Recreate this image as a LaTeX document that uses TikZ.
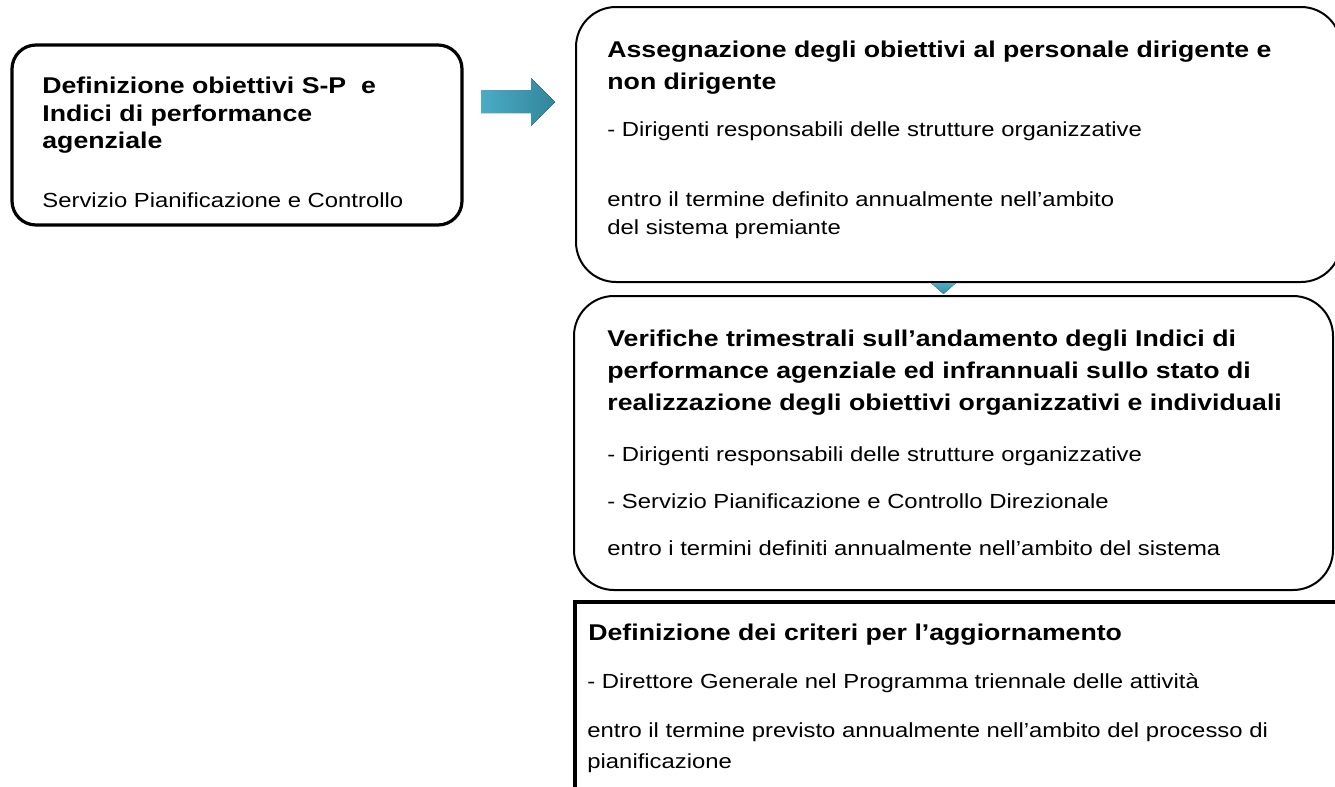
\documentclass[tikz,border=0pt]{standalone}
\usepackage{fontspec}
\setmainfont{Liberation Sans}[FakeStretch=1.17]
\usepackage{tikz}

\definecolor{arrowL}{RGB}{75,172,198}
\definecolor{arrowR}{RGB}{49,133,155}

\tikzset{
  roundbox/.style={draw, line width=1pt, rounded corners=20pt},
  titletext/.style={anchor=base west, inner sep=0pt, font=\fontsize{11.4}{13}\selectfont\bfseries},
  bodytext/.style={anchor=base west, inner sep=0pt, font=\fontsize{10.2}{12}\selectfont},
}

\begin{document}
\begin{tikzpicture}[x=0.5pt,y=-0.5pt]
\useasboundingbox (0,0) rectangle (1335,787);
% boxes
\draw[roundbox, line width=1.6pt, rounded corners=12pt] (12,45) rectangle (462,225);
\draw[roundbox] (576,7) rectangle (1341,282);
\draw[roundbox] (574,296) rectangle (1333,590);
\draw[line width=2pt] (575,602) rectangle (1400,900);
% arrows
\fill[left color=arrowL, right color=arrowR] (481,90) -- (531,90) -- (531,78) -- (555,102) -- (531,126) -- (531,113) -- (481,113) -- cycle;
\fill[top color=arrowL, bottom color=arrowR!80!arrowL] (931,283) -- (956,283) -- (943.5,294) -- cycle;
% left box
\node[titletext] (a1) at (42,93) {Definizione obiettivi S-P\ \ e};
\node[titletext] (a2) at (42,121) {Indici di performance};
\node[titletext] (a3) at (42,148) {agenziale};
\node[bodytext] (a4) at (42,207) {Servizio Pianificazione e Controllo};
% assegnazione
\node[titletext] (b1) at (607,57) {Assegnazione degli obiettivi al personale dirigente e};
\node[titletext] (b2) at (607,89) {non dirigente};
\node[bodytext] (b3) at (607,136) {- Dirigenti responsabili delle strutture organizzative};
\node[bodytext] (b4) at (607,206) {entro il termine definito annualmente nell’ambito};
\node[bodytext] (b5) at (607,234) {del sistema premiante};
% verifiche
\node[titletext] (c1) at (607,346) {Verifiche trimestrali sull’andamento degli Indici di};
\node[titletext] (c2) at (607,378) {performance agenziale ed infrannuali sullo stato di};
\node[titletext] (c3) at (607,410) {realizzazione degli obiettivi organizzativi e individuali};
\node[bodytext] (c4) at (607,461) {- Dirigenti responsabili delle strutture organizzative};
\node[bodytext] (c5) at (607,508) {- Servizio Pianificazione e Controllo Direzionale};
\node[bodytext] (c6) at (607,555) {entro i termini definiti annualmente nell’ambito del sistema};
% criteri
\node[titletext] (d1) at (588,640) {Definizione dei criteri per l’aggiornamento};
\node[bodytext] (d2) at (587,688) {- Direttore Generale nel Programma triennale delle attività};
\node[bodytext] (d3) at (587,737) {entro il termine previsto annualmente nell’ambito del processo di};
\node[bodytext] (d4) at (587,768) {pianificazione};
\end{tikzpicture}
\end{document}
